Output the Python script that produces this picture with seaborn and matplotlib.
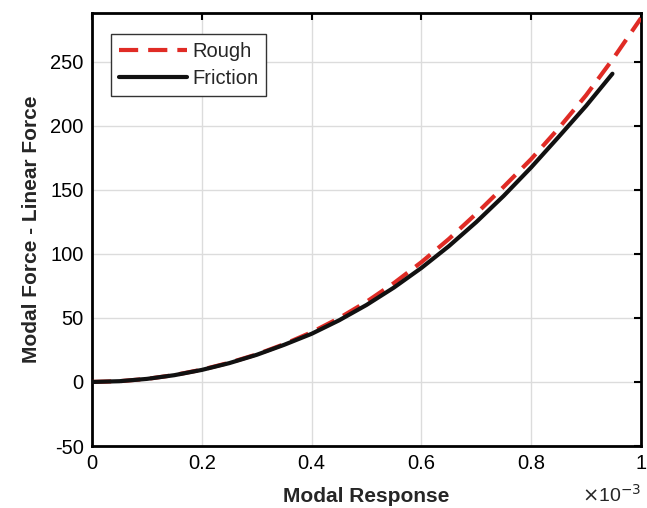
import pandas as pd
import seaborn as sns
import matplotlib.pyplot as plt

# modal response (m) and force difference
rough_x = [0.0, 0.05e-3, 0.1e-3, 0.15e-3, 0.2e-3, 0.25e-3, 0.3e-3, 0.35e-3, 0.4e-3,
           0.45e-3, 0.5e-3, 0.55e-3, 0.6e-3, 0.65e-3, 0.7e-3, 0.75e-3, 0.8e-3,
           0.85e-3, 0.9e-3, 0.95e-3, 1.0e-3]
rough_y = [0.0, 0.6, 2.4, 5.4, 9.6, 15.0, 21.5, 29.5, 38.8, 49.8, 62.6, 77.2,
           93.5, 111.6, 131.4, 152.4, 174.0, 198.0, 223.8, 252.8, 284.0]

friction_x = [0.0, 0.05e-3, 0.1e-3, 0.15e-3, 0.2e-3, 0.25e-3, 0.3e-3, 0.35e-3, 0.4e-3,
              0.45e-3, 0.5e-3, 0.55e-3, 0.6e-3, 0.65e-3, 0.7e-3, 0.75e-3, 0.8e-3,
              0.85e-3, 0.9e-3, 0.948e-3]
friction_y = [0.0, 0.6, 2.4, 5.3, 9.4, 14.7, 21.2, 29.0, 37.6, 48.1, 60.1, 73.7,
              89.0, 106.0, 124.8, 145.3, 167.5, 191.3, 215.5, 240.6]

x_ticks = [0, 0.2e-3, 0.4e-3, 0.6e-3, 0.8e-3, 1.0e-3]
x_tick_labels = ["0", "0.2", "0.4", "0.6", "0.8", "1"]
y_ticks = [-50, 0, 50, 100, 150, 200, 250]

sns.set_style("white")
plt.rcParams['font.family'] = ['Liberation Sans', 'DejaVu Sans']
plt.rcParams['axes.unicode_minus'] = False

fig = plt.figure(figsize=(6.47, 5.08), dpi=100)
ax = fig.add_axes([0.1422, 0.122, 0.8485, 0.8524])

rough_df = pd.DataFrame({"x": rough_x, "y": rough_y})
friction_df = pd.DataFrame({"x": friction_x, "y": friction_y})

sns.lineplot(data=rough_df, x="x", y="y", ax=ax, color="#e02b25", lw=3.0,
             label="Rough", estimator=None, zorder=3)
ax.lines[-1].set_dashes((4.6, 2.4))
sns.lineplot(data=friction_df, x="x", y="y", ax=ax, color="#111111", lw=3.0,
             label="Friction", estimator=None, zorder=4)

ax.set_xlim(0, 1e-3)
ax.set_ylim(-50, 288)
ax.set_xticks(x_ticks)
ax.set_xticklabels(x_tick_labels)
ax.set_yticks(y_ticks)
ax.text(1.0, -0.088, r"$\times$10$^{-3}$", transform=ax.transAxes,
        ha="right", va="top", fontsize=14)

ax.grid(True, color="#dcdcdc", lw=1.0)
ax.tick_params(direction="in", length=5, width=1.5, labelsize=14.5,
               top=True, right=True, pad=6, colors="black")
for s in ax.spines.values():
    s.set_linewidth(2.0)
    s.set_color("black")
    s.set_visible(True)

ax.set_xlabel("Modal Response", fontsize=15, fontweight="bold", labelpad=10)
ax.set_ylabel("Modal Force - Linear Force", fontsize=15, fontweight="bold", labelpad=7)

leg = ax.legend(loc="upper left", bbox_to_anchor=(0.034, 0.952), fontsize=14.5,
                handlelength=3.4, handletextpad=0.25, borderpad=0.4,
                labelspacing=0.4, borderaxespad=0, fancybox=False, framealpha=1,
                edgecolor="#333333")
leg.get_frame().set_linewidth(1.0)

fig.savefig("out.png", dpi=100)
